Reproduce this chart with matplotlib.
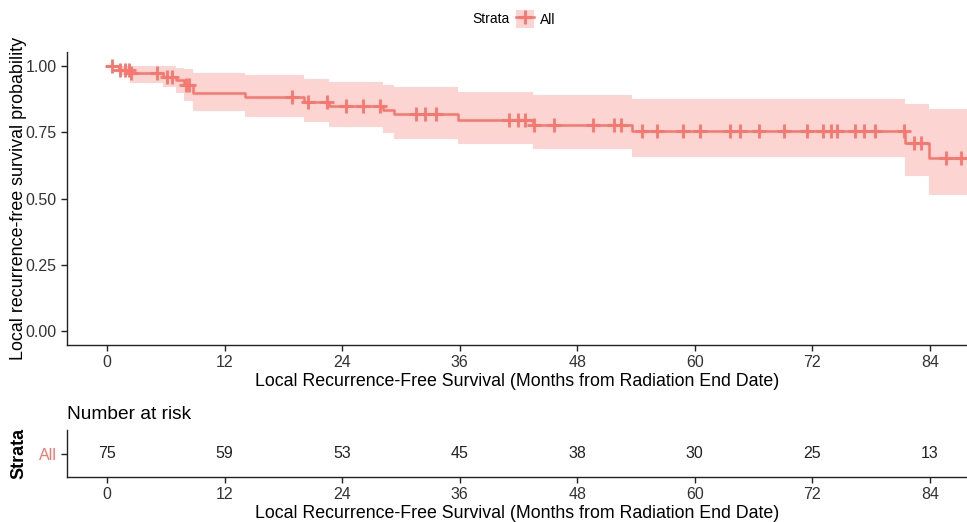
import matplotlib.pyplot as plt
import numpy as np
from matplotlib.lines import Line2D
from matplotlib.patches import Patch

plt.rcParams['font.family'] = ['Liberation Sans', 'DejaVu Sans']

# Kaplan-Meier steps (months, survival, CI)
step_t = [0, 1.2, 2.35, 5.7, 7.0, 7.8, 8.8, 14.1, 20.1, 22.7, 28.2, 29.3, 35.8, 43.5, 53.6, 81.5, 83.9]
surv = [1.0, 0.986, 0.973, 0.960, 0.947, 0.930, 0.898, 0.883, 0.866, 0.851, 0.835, 0.820, 0.798, 0.778, 0.757, 0.710, 0.655]
upper = [1.0, 1.0, 1.0, 1.0, 0.995, 0.99, 0.975, 0.967, 0.953, 0.941, 0.928, 0.920, 0.903, 0.891, 0.876, 0.859, 0.840]
lower = [1.0, 0.966, 0.938, 0.92, 0.90, 0.87, 0.831, 0.810, 0.790, 0.772, 0.748, 0.727, 0.706, 0.686, 0.658, 0.585, 0.512]
end_t = 88.0

censor_t = [0.5, 1.35, 1.8, 2.2, 2.45, 5.1, 6.1, 6.6, 8.1, 8.4, 18.9, 20.5, 22.4, 24.4, 26.1, 27.9,
            31.5, 32.5, 33.6, 41.0, 42.0, 42.7, 43.6, 45.6, 49.6, 51.8, 52.5, 54.6, 56.1, 58.8, 60.5,
            63.6, 64.6, 66.6, 69.1, 71.5, 73.1, 73.9, 74.5, 76.4, 77.3, 78.4, 81.4, 82.4, 83.1, 85.7, 87.2]

risk_times = [0, 12, 24, 36, 48, 60, 72, 84]
n_risk = [75, 59, 53, 45, 38, 30, 25, 13]

col = '#F8766D'
xlab = 'Local Recurrence-Free Survival (Months from Radiation End Date)'

fig = plt.figure(figsize=(9.67, 5.22), dpi=100)
ax = fig.add_axes([0.0693, 0.339, 0.9307, 0.561])
ax2 = fig.add_axes([0.0693, 0.0862, 0.9307, 0.090])

t = np.array(step_t + [end_t])
s = np.array(surv + [surv[-1]])
up = np.array(upper + [upper[-1]])
lo = np.array(lower + [lower[-1]])
ax.fill_between(t, lo, up, step='post', color=col, alpha=0.3, lw=0)
ax.step(t, s, where='post', color=col, lw=1.8)
cs = [surv[np.searchsorted(step_t, c, side='right') - 1] for c in censor_t]
ax.plot(censor_t, cs, ls='none', marker='+', ms=10, mew=2, color=col)

xlim = (-4.1, 87.8)
for a in (ax, ax2):
    a.set_xlim(*xlim)
    a.set_xticks(risk_times)
    a.spines['top'].set_visible(False)
    a.spines['right'].set_visible(False)
    for sp in ('left', 'bottom'):
        a.spines[sp].set_color('#222222')
        a.spines[sp].set_linewidth(1.0)
    a.tick_params(colors='#222222', labelsize=11.5, length=4, width=1, labelcolor='#333333')
    a.set_xlabel(xlab, fontsize=12.8, color='black', labelpad=2)

ax.set_ylim(-0.053, 1.053)
ax.set_yticks([0, 0.25, 0.5, 0.75, 1.0])
ax.set_yticklabels(['0.00', '0.25', '0.50', '0.75', '1.00'])
ax.set_ylabel('Local recurrence-free survival probability', fontsize=12.9, color='black')

ax2.set_ylim(0, 1)
ax2.set_yticks([0.5])
ax2.set_yticklabels(['All'])
ax2.get_yticklabels()[0].set_color(col)
for x, n in zip(risk_times, n_risk):
    ax2.text(x, 0.5, str(n), ha='center', va='center', fontsize=11.5, color='#222222')
ax2.set_ylabel('Strata', fontsize=13, fontweight='bold')
ax2.yaxis.set_label_coords(-0.044, 0.5)
ax.yaxis.set_label_coords(-0.044, 0.5)
ax2.set_title('Number at risk', loc='left', fontsize=13.8, pad=8)

# legend on top
fig.text(510 / 967, 1 - 19 / 522, 'Strata', ha='right', va='center', fontsize=10)
handle = (Patch(facecolor=col, alpha=0.3, lw=0),
          Line2D([], [], color=col, marker='+', ms=10, mew=2, lw=1.8))
fig.legend([handle], ['All'], loc='center left', bbox_to_anchor=(509 / 967, 1 - 19 / 522),
           frameon=False, fontsize=10, handlelength=1.3, handleheight=1.6,
           handletextpad=0.4, borderpad=0)

fig.savefig('out.png', dpi=100)
